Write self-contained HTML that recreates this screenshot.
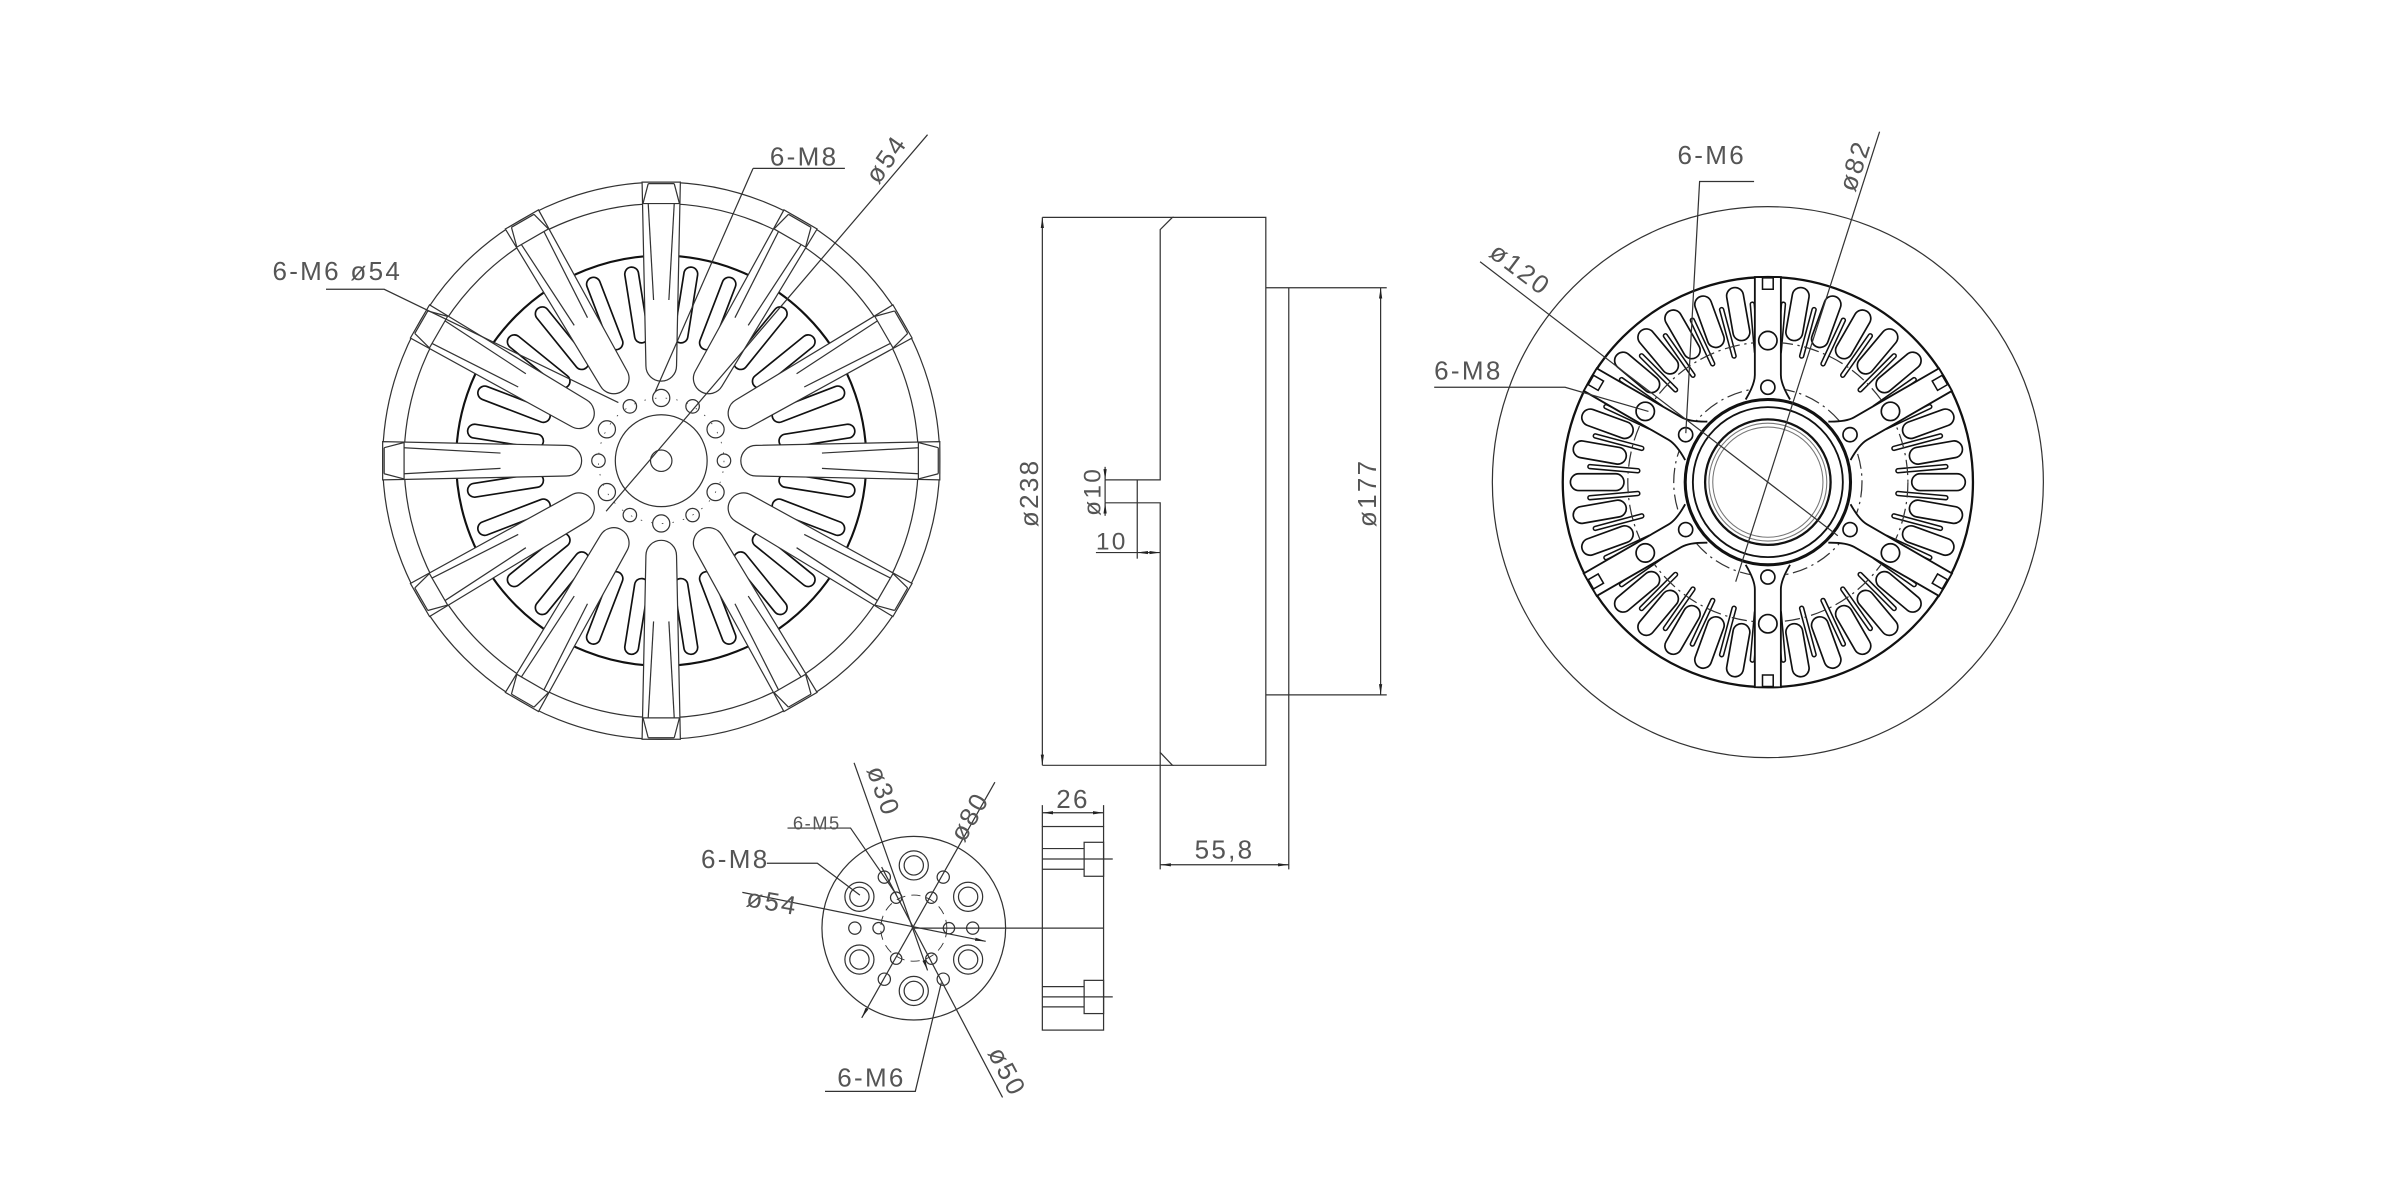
<!DOCTYPE html>
<html><head><meta charset="utf-8"><style>
html,body{margin:0;padding:0;background:#fff;}
svg{display:block;}
text{font-family:"Liberation Sans",sans-serif;fill:#555;font-size:17px;letter-spacing:1.5px;}
</style></head><body>
<svg id="s" xmlns="http://www.w3.org/2000/svg" width="2400" height="1200" viewBox="0 0 1568 784" preserveAspectRatio="none">
<defs>
<marker id="ar" viewBox="0 0 10 10" refX="10" refY="5" markerWidth="7" markerHeight="7" orient="auto-start-reverse" markerUnits="userSpaceOnUse"><path d="M0,3.5 L10,5 L0,6.5 z" fill="#222"/></marker>
</defs>
<rect width="1568" height="784" fill="#fff"/>
<g id="g" fill="none" stroke="#333" stroke-width="0.8"></g>

<!-- side view -->
<g fill="none" stroke="#333" stroke-width="0.8">
<path d="M681,142 H766 L758,150 V313.5 H722 M758,313.5 M722,328.5 H758 V491.6 L766,500 H681"/>
<path d="M766,142 H827 V500 H766"/>
<path d="M743,313.5 V365"/>
<path d="M758,491.6 V568 M842,454 V568"/>
<path d="M827,188 H906 M827,454 H906 M842,188 V454"/>
<line x1="681" y1="142" x2="681" y2="500" marker-start="url(#ar)" marker-end="url(#ar)"/>
<line x1="902" y1="188" x2="902" y2="454" marker-start="url(#ar)" marker-end="url(#ar)"/>
<line x1="722" y1="305" x2="722" y2="313.5" marker-end="url(#ar)"/>
<line x1="722" y1="337" x2="722" y2="328.5" marker-end="url(#ar)"/>
<line x1="722" y1="313.5" x2="722" y2="328.5"/>
<line x1="743" y1="361" x2="758" y2="361" marker-start="url(#ar)" marker-end="url(#ar)"/>
<line x1="716" y1="361" x2="743" y2="361"/>
<line x1="758" y1="565" x2="842" y2="565" marker-start="url(#ar)" marker-end="url(#ar)"/>
<!-- small side view -->
<rect x="681" y="540" width="40" height="133"/>
<path d="M681,526 V540 M721,526 V540"/>
<line x1="681" y1="531" x2="721" y2="531" marker-start="url(#ar)" marker-end="url(#ar)"/>
<rect x="708.3" y="550.3" width="12.7" height="22.2"/>
<path d="M681,554.4 H708.3 M681,561.2 H727 M681,567.9 H708.3"/>
<rect x="708.3" y="640.5" width="12.7" height="21.7"/>
<path d="M681,644.6 H708.3 M681,651.3 H727 M681,657.8 H708.3"/>
<path d="M597,606.4 H721"/>
</g>

<!-- texts -->
<text x="503" y="108">6-M8</text>
<text transform="translate(574,121) rotate(-55)">ø54</text>
<text x="178" y="183">6-M6 ø54</text>
<text transform="translate(678,322) rotate(-90)" text-anchor="middle">ø238</text>
<text transform="translate(719,321) rotate(-90)" text-anchor="middle" style="font-size:16px">ø10</text>
<text x="716" y="359" style="font-size:16px">10</text>
<text transform="translate(899,322) rotate(-90)" text-anchor="middle">ø177</text>
<text x="800" y="561" text-anchor="middle">55,8</text>
<text x="701" y="528" text-anchor="middle">26</text>
<text x="518" y="542" style="font-size:12px;letter-spacing:1px">6-M5</text>
<text x="458" y="567">6-M8</text>
<text transform="translate(487,592) rotate(10)">ø54</text>
<text transform="translate(566,503) rotate(70)">ø30</text>
<text transform="translate(630,551) rotate(-60)">ø80</text>
<text transform="translate(645,688) rotate(62)">ø50</text>
<text x="547" y="710">6-M6</text>
<text x="1096" y="107">6-M6</text>
<text transform="translate(1212,126) rotate(-72)">ø82</text>
<text transform="translate(972,167) rotate(37)">ø120</text>
<text x="937" y="248">6-M8</text>

<script>
(function(){
var g=document.getElementById('g');var NS='http://www.w3.org/2000/svg';
function el(t,a){var e=document.createElementNS(NS,t);for(var k in a)e.setAttribute(k,a[k]);g.appendChild(e);return e;}
function P(cx,cy,r,a){a=a*Math.PI/180;return [cx+r*Math.cos(a),cy+r*Math.sin(a)];}
function pt(p){return p[0].toFixed(2)+','+p[1].toFixed(2);}
function circ(cx,cy,r,extra){var a={cx:cx,cy:cy,r:r};for(var k in extra)a[k]=extra[k];return el('circle',a);}
function rslot(cx,cy,ang,r1,r2,w,extra){
  var m=P(cx,cy,(r1+r2)/2,ang);var a={x:-(r2-r1)/2,y:-w/2,width:r2-r1,height:w,rx:w/2,transform:'translate('+pt(m)+') rotate('+ang+')'};
  for(var k in extra)a[k]=extra[k];return el('rect',a);}
function line(a,b,extra){var o={x1:a[0],y1:a[1],x2:b[0],y2:b[1]};for(var k in extra)o[k]=extra[k];return el('line',o);}
function pl(pts,extra){var o={points:pts.map(pt).join(' ')};for(var k in extra)o[k]=extra[k];return el('polyline',o);}

// ===== LEFT WHEEL =====
var cx=432,cy=301;
circ(cx,cy,182);circ(cx,cy,168);
circ(cx,cy,134,{'stroke-width':1.4,stroke:'#111'});
for(var i=0;i<12;i++){
  var gc=i*30+15;
  rslot(cx,cy,gc-6,78,128,9,{'stroke-width':1.1,stroke:'#111'});
  rslot(cx,cy,gc+6,78,128,9,{'stroke-width':1.1,stroke:'#111'});
  rslot(cx,cy,gc-12.5,90,126,3,{'stroke-width':1,stroke:'#111'});
  rslot(cx,cy,gc+12.5,90,126,3,{'stroke-width':1,stroke:'#111'});
}
for(var i=0;i<12;i++){
  var a=i*30, r1=62, r2=182, w1=10, w2=12.5;
  var Q=function(r,off){var ar=a*Math.PI/180;return [cx+r*Math.cos(ar)-off*Math.sin(ar),cy+r*Math.sin(ar)+off*Math.cos(ar)];};
  var A=Q(r1,-w1),B=Q(r2,-w2),C=Q(r2,w2),D=Q(r1,w1);
  el('path',{d:'M'+pt(A)+' L'+pt(B)+' L'+pt(C)+' L'+pt(D)+' A'+w1+','+w1+' 0 0 1 '+pt(A)+' Z',fill:'#fff'});
  line(Q(168,-w2+0.6),Q(168,w2-0.6));
  line(Q(168,-w2+0.6),Q(181,-w2+4));line(Q(168,w2-0.6),Q(181,w2-4));
  line(Q(181,-w2+4),Q(181,w2-4));
  line(Q(168,-w2+4),Q(105,-5));line(Q(168,w2-4),Q(105,5));
}
circ(cx,cy,30);circ(cx,cy,7);
for(var k=0;k<12;k++){var ang=-90+k*30;var p=P(cx,cy,41,ang);circ(p[0],p[1],k%2==0?5.6:4.4);}
circ(cx,cy,41,{'stroke-dasharray':'1 6','stroke-width':0.5});
pl([[492,110],[552,110]]);pl([[492,110],[428,256]]);
line([606,88],[396,334]);
pl([[213,189],[251,189],[404,263]]);

// ===== RIGHT VIEW =====
var X=1155,Y=315;
circ(X,Y,180);
circ(X,Y,134,{'stroke-width':1.5,stroke:'#111'});
for(var s=0;s<6;s++){
  var c=60*s+0;
  for(var j=-2;j<=2;j++) rslot(X,Y,c+j*10,94,129,11,{'stroke-width':1.1,stroke:'#111'});
  for(var j=-2;j<=3;j++) rslot(X,Y,c+j*10-5,84,118,2.6,{'stroke-width':1,stroke:'#111',fill:'#fff'});
}
circ(X,Y,91.5,{'stroke-dasharray':'10 3 1.5 3','stroke-width':0.8});
circ(X,Y,61.5,{'stroke-dasharray':'10 3 1.5 3','stroke-width':0.8});
for(var s=0;s<6;s++){
  var a2=30+60*s, w=8.5;
  var Q2=function(r,off){var ar=a2*Math.PI/180;return [X+r*Math.cos(ar)-off*Math.sin(ar),Y+r*Math.sin(ar)+off*Math.cos(ar)];};
  el('path',{d:'M'+pt(Q2(54,-w-6))+' Q'+pt(Q2(64,-w))+' '+pt(Q2(70,-w))+' L'+pt(Q2(134,-w))+' L'+pt(Q2(134,w))+' L'+pt(Q2(70,w))+' Q'+pt(Q2(64,w))+' '+pt(Q2(54,w+6)),fill:'#fff','stroke-width':1.2,stroke:'#111'});
  var q1=Q2(126,-3.5),q2=Q2(133.5,-3.5),q3=Q2(133.5,3.5),q4=Q2(126,3.5);
  el('polygon',{points:[q1,q2,q3,q4].map(pt).join(' '),'stroke-width':1,stroke:'#111'});
}
circ(X,Y,54,{'stroke-width':2,stroke:'#111',fill:'#fff'});
circ(X,Y,49,{'stroke-width':1.2,stroke:'#111'});
circ(X,Y,41,{'stroke-width':1.5,stroke:'#111'});
circ(X,Y,36,{'stroke-width':0.7,stroke:'#777'});
circ(X,Y,38.5,{'stroke-width':0.7,stroke:'#777'});
for(var k=0;k<6;k++){var ang=-90+k*60;var p=P(X,Y,92.5,ang);circ(p[0],p[1],6,{fill:'#fff','stroke-width':1.1,stroke:'#111'});
  var q=P(X,Y,62,ang);circ(q[0],q[1],4.6,{fill:'#fff','stroke-width':1.1,stroke:'#111'});}
pl([[1146,118.6],[1110.4,118.6],[1101.4,283]]);
line([1228,86],[1134,380]);
line([967,171],[1200.7,350]);
pl([[937,253],[1022.5,253],[1077,268.8]]);

// ===== FLANGE VIEW =====
var fx=597,fy=606.4;
circ(fx,fy,60);
circ(fx,fy,21.6,{'stroke-dasharray':'6 4','stroke-width':0.6});
for(var k=0;k<6;k++){
  var p=P(fx,fy,41,-90+k*60);circ(p[0],p[1],9.5);circ(p[0],p[1],6.3);
  var q=P(fx,fy,38.5,k*60);circ(q[0],q[1],4);
  var r=P(fx,fy,23,k*60);circ(r[0],r[1],3.7);
}
pl([[514.5,541],[555.7,541],[585.6,584.4]]);
pl([[501,564],[534,564],[561.8,584.8]]);
line([485,583],[644,615],{'marker-end':'url(#ar)'});
line([558,498.4],[606,634],{'marker-end':'url(#ar)'});
line([650,511],[563,665],{'marker-end':'url(#ar)'});
line([576,566.5],[655,717]);
pl([[539,713],[598,713],[615,642]]);
})();
</script>
</svg>
</body></html>
